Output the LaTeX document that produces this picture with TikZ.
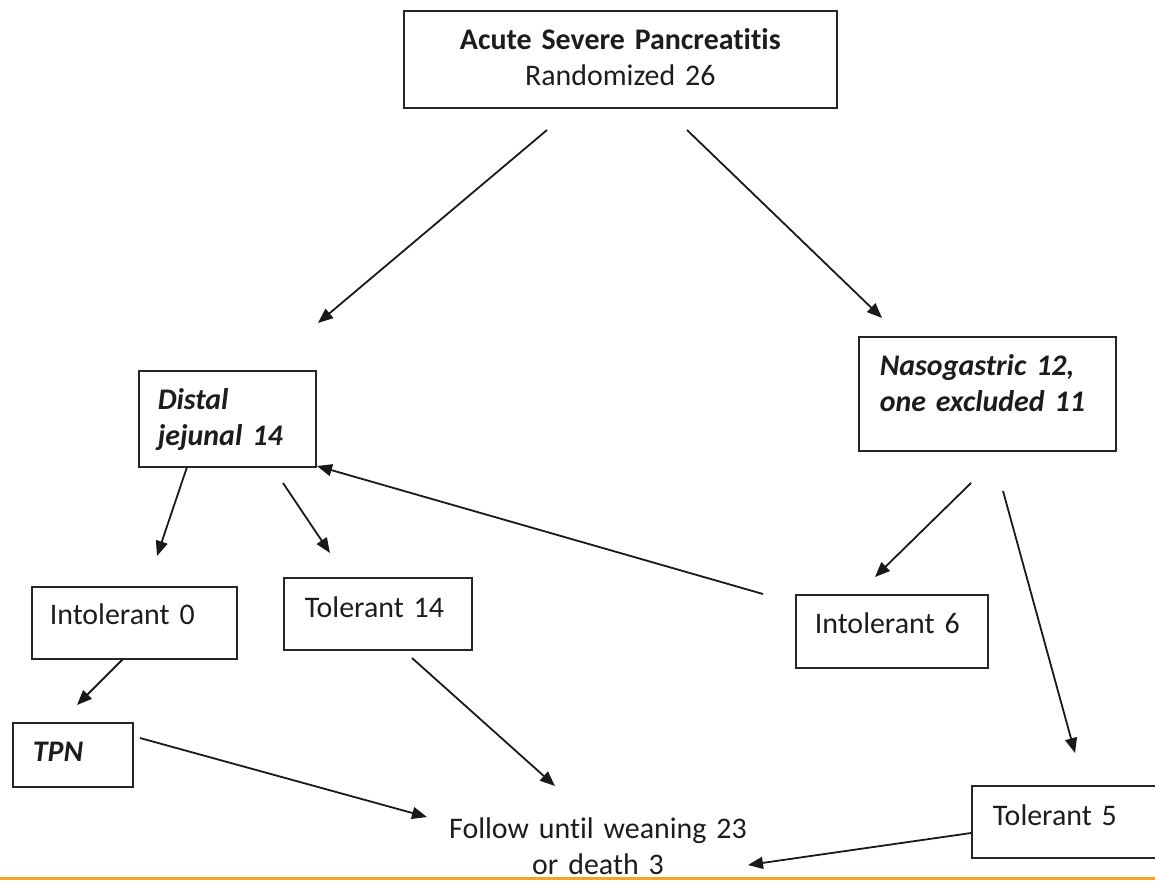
\documentclass[tikz,border=0pt]{standalone}
\usepackage{fontspec}
\setmainfont{Carlito}[Ligatures=NoCommon]
\usetikzlibrary{arrows.meta}
\definecolor{barorange}{RGB}{245,165,35}
\definecolor{inkgray}{RGB}{30,27,28}

\begin{document}
\begin{tikzpicture}[
    x=1pt, y=-1pt,
    font=\fontsize{29.9}{36}\selectfont,
    box/.style={draw=black!85, line width=1.6pt, anchor=north west, inner ysep=0pt,
        align=left, text=inkgray},
    plain/.style={text=inkgray, inner sep=0pt, align=center},
    arrow/.style={-{Triangle[length=15pt,width=12pt]}, line width=1.8pt, draw=black!90}
]
\useasboundingbox (0,0) rectangle (1155,880);
\clip (0,0) rectangle (1155,880);

% Boxes
\node[box, align=center, inner xsep=0pt, text width=433pt, text height=39pt, text depth=58pt]
    (rand) at (403,10) {\textbf{Acute Severe Pancreatitis}\\Randomized 26};
\node[box, inner xsep=19pt, text width=139pt, text height=39pt, text depth=57pt]
    (jej) at (138,370) {\textbf{\textit{Distal\\jejunal 14}}};
\node[box, inner xsep=21pt, text width=215pt, text height=39pt, text depth=75pt]
    (naso) at (858,336) {\textbf{\textit{Nasogastric 12,\\one excluded 11}}};
\node[box, inner xsep=18pt, text width=169pt, text height=38pt, text depth=34pt]
    (int0) at (31,586) {Intolerant 0};
\node[box, inner xsep=21pt, text width=146pt, text height=40pt, text depth=32pt]
    (tol14) at (283,577) {Tolerant 14};
\node[box, inner xsep=19pt, text width=154pt, text height=39pt, text depth=34pt]
    (int6) at (795,594) {Intolerant 6};
\node[box, inner xsep=20pt, text width=80pt, text height=39pt, text depth=25pt]
    (tpn) at (12,722) {\textbf{\textit{TPN}}};
\node[box, inner xsep=21pt, text width=158pt, text height=40pt, text depth=32pt]
    (tol5) at (971,785) {Tolerant 5};

% Outcome
\node[plain, anchor=base, text width=320pt] (follow) at (598,838)
    {Follow until weaning 23\\or death 3};

% Arrow ends
\coordinate (randL) at (547,130);
\coordinate (jejIn) at (318,323);
\coordinate (randR) at (687,130);
\coordinate (nasoIn) at (882,318);
\coordinate (jejL) at (187,467);
\coordinate (int0In) at (157,556);
\coordinate (jejR) at (283,483);
\coordinate (tol14In) at (330,553);
\coordinate (int6Out) at (763,594);
\coordinate (jejCorner) at (317,466);
\coordinate (nasoL) at (971,483);
\coordinate (int6In) at (875,577);
\coordinate (nasoR) at (1003,491);
\coordinate (tol5In) at (1075,753);
\coordinate (int0Out) at (123,659);
\coordinate (tpnIn) at (77,705);
\coordinate (tpnOut) at (140,738);
\coordinate (followL) at (427,817);
\coordinate (tol14Out) at (412,658);
\coordinate (followTop) at (555,786);
\coordinate (tol5Out) at (971,833);
\coordinate (followR) at (748,865);

% Arrows
\draw[arrow] (randL) -- (jejIn);
\draw[arrow] (randR) -- (nasoIn);
\draw[arrow] (jejL) -- (int0In);
\draw[arrow] (jejR) -- (tol14In);
\draw[arrow] (int6Out) -- (jejCorner);
\draw[arrow] (nasoL) -- (int6In);
\draw[arrow] (nasoR) -- (tol5In);
\draw[arrow] (int0Out) -- (tpnIn);
\draw[arrow] (tpnOut) -- (followL);
\draw[arrow] (tol14Out) -- (followTop);
\draw[arrow] (tol5Out) -- (followR);

% Bottom rule
\fill[barorange] (0,876.5) rectangle (1155,880);

\end{tikzpicture}
\end{document}
